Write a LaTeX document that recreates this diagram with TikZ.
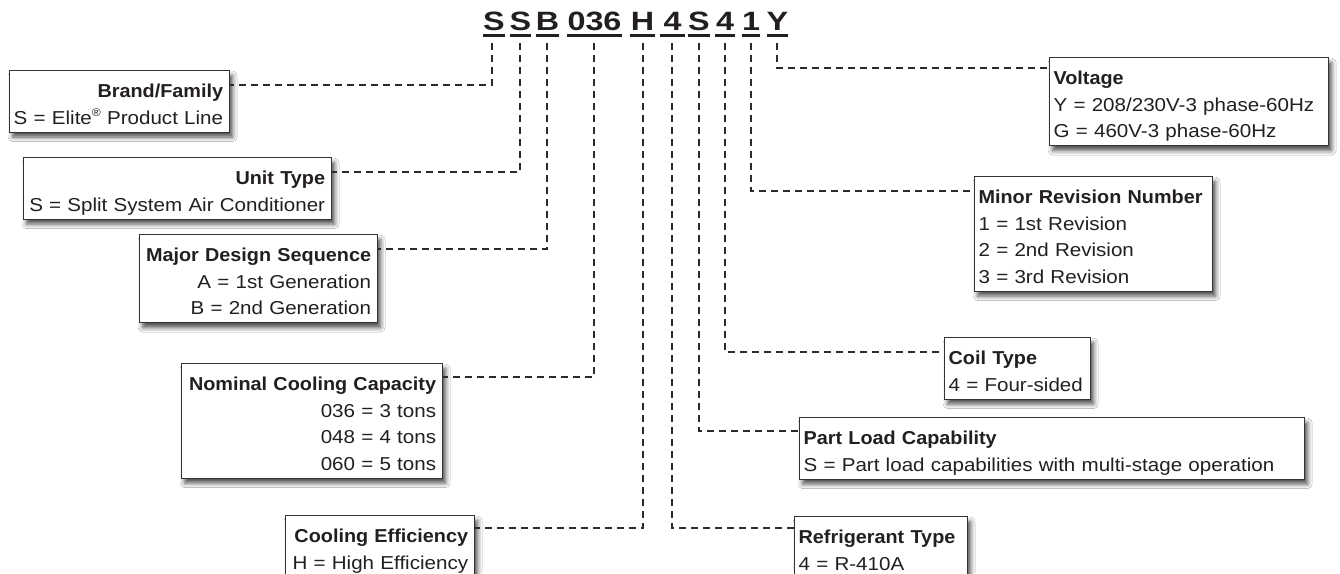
\documentclass[tikz,border=0pt]{standalone}
\usepackage{fontspec}
\setmainfont{Liberation Sans}[FakeStretch=1.10, BoldFeatures={FakeStretch=1.06}]
\newfontfamily\codefont{Liberation Sans}[FakeStretch=1.22, BoldFeatures={FakeStretch=1.22}]
\usetikzlibrary{shadows.blur}
\setlength\parindent{0pt}
\definecolor{ink}{HTML}{231F20}
\definecolor{lineclr}{HTML}{2B2B2B}
\newcommand\firstst{\rule{0pt}{27pt}}
\newcommand\lastst{\rule[-8pt]{0pt}{8pt}}
\newcommand\sreg{\raisebox{7.5pt}{\fontsize{11pt}{11pt}\selectfont ®}}
\newcommand\RL[1]{\makebox[\hsize][r]{#1}}
\newcommand\LL[1]{\makebox[\hsize][l]{#1}}
\tikzset{
  conn/.style={draw=lineclr, line width=2pt, dash pattern=on 7pt off 5pt},
  code/.style={font=\codefont\bfseries\fontsize{26.5pt}{28pt}\selectfont, text=ink, inner sep=0pt, anchor=base},
  uline/.style={draw=ink, line width=2.5pt},
  infobox/.style={draw=black!80, line width=1.2pt, fill=white, text=ink, inner ysep=0pt, anchor=north west,
    font=\fontsize{18.7pt}{26.5pt}\selectfont,
    blur shadow={shadow xshift=3pt, shadow yshift=-5pt, shadow blur radius=4.5pt, shadow opacity=70}},
  leftbox/.style={infobox, align=right, inner xsep=6.5pt},
  rightbox/.style={infobox, align=left, inner xsep=4pt},
}
\begin{document}
\begin{tikzpicture}[x=1pt, y=-1pt]
\useasboundingbox (0,0) rectangle (1340,573);
\clip (0,0) rectangle (1340,573);
\fill[white] (0,0) rectangle (1340,573);

% code letters
\node[code, minimum width=18pt] (c1) at (494,30) {S};
\node[code, minimum width=17pt] (c2) at (520.5,30) {S};
\node[code, minimum width=19pt] (c3) at (547.5,30) {B};
\node[code, minimum width=55pt] (c4) at (594.5,30) {036};
\node[code, minimum width=25pt] (c5) at (642.5,30) {H};
\node[code, minimum width=24pt] (c6) at (672.5,30) {4};
\node[code, minimum width=22pt] (c7) at (699,30) {S};
\node[code, minimum width=20pt] (c8) at (725,30) {4};
\node[code, minimum width=18pt] (c9) at (751,30) {1};
\node[code, minimum width=21pt] (c10) at (777.5,30) {Y};
\foreach \n in {c1,c2,c3,c4,c5,c6,c7,c8,c9,c10}
  \draw[uline] ([yshift=-5.5pt]\n.base west) -- ([yshift=-5.5pt]\n.base east);

\coordinate (t1) at (492,43);
\coordinate (t2) at (520,43);
\coordinate (t3) at (547,43);
\coordinate (t4) at (594,43);
\coordinate (t5) at (643,43);
\coordinate (t6) at (672,43);
\coordinate (t7) at (699,43);
\coordinate (t8) at (725,43);
\coordinate (t9) at (751,43);
\coordinate (t10) at (777,43);

% boxes (left side, right aligned)
\node[leftbox, text width=207pt] (brand) at (9,70)
  {\firstst\RL{\textbf{Brand/Family}}\\\RL{S = Elite\sreg{} Product Line}\lastst};
\node[leftbox, text width=295pt] (unit) at (23,157)
  {\firstst\RL{\textbf{Unit Type}}\\\RL{S = Split System Air Conditioner}\lastst};
\node[leftbox, text width=225pt] (major) at (139,234)
  {\firstst\RL{\textbf{Major Design Sequence}}\\\RL{A = 1st Generation}\\\RL{B = 2nd Generation}\lastst};
\node[leftbox, text width=248pt] (nominal) at (181,363)
  {\firstst\RL{\textbf{Nominal Cooling Capacity}}\\\RL{036 = 3 tons}\\\RL{048 = 4 tons}\\\RL{060 = 5 tons}\lastst};
\node[leftbox, text width=176pt] (cooling) at (285,515)
  {\firstst\RL{\textbf{Cooling Efficiency}}\\\RL{H = High Efficiency}\lastst};

% boxes (right side, left aligned)
\node[rightbox, text width=271pt] (voltage) at (1049,57)
  {\firstst\LL{\textbf{Voltage}}\\\LL{Y = 208/230V-3 phase-60Hz}\\\LL{G = 460V-3 phase-60Hz}\lastst};
\node[rightbox, text width=230pt] (minor) at (974,176)
  {\firstst\LL{\textbf{Minor Revision Number}}\\\LL{1 = 1st Revision}\\\LL{2 = 2nd Revision}\\\LL{3 = 3rd Revision}\lastst};
\node[rightbox, text width=138pt] (coil) at (944,337)
  {\firstst\LL{\textbf{Coil Type}}\\\LL{4 = Four-sided}\lastst};
\node[rightbox, text width=497pt] (part) at (799,417)
  {\firstst\LL{\textbf{Part Load Capability}}\\\LL{S = Part load capabilities with multi-stage operation}\lastst};
\node[rightbox, text width=165pt] (refr) at (794,516)
  {\firstst\LL{\textbf{Refrigerant Type}}\\\LL{4 = R-410A}\lastst};

% connectors
\draw[conn] (t1) |- ([yshift=-14.5pt]brand.north east);
\draw[conn] (t2) |- ([yshift=-14.5pt]unit.north east);
\draw[conn] (t3) |- ([yshift=-15pt]major.north east);
\draw[conn] (t4) |- ([yshift=-14pt]nominal.north east);
\draw[conn] (t5) |- ([yshift=-13pt]cooling.north east);
\draw[conn] (t10) |- ([yshift=-11pt]voltage.north west);
\draw[conn] (t9) |- ([yshift=-15pt]minor.north west);
\draw[conn] (t8) |- ([yshift=-15pt]coil.north west);
\draw[conn] (t7) |- ([yshift=-14pt]part.north west);
\draw[conn] (t6) |- ([yshift=-12pt]refr.north west);
\end{tikzpicture}
\end{document}
